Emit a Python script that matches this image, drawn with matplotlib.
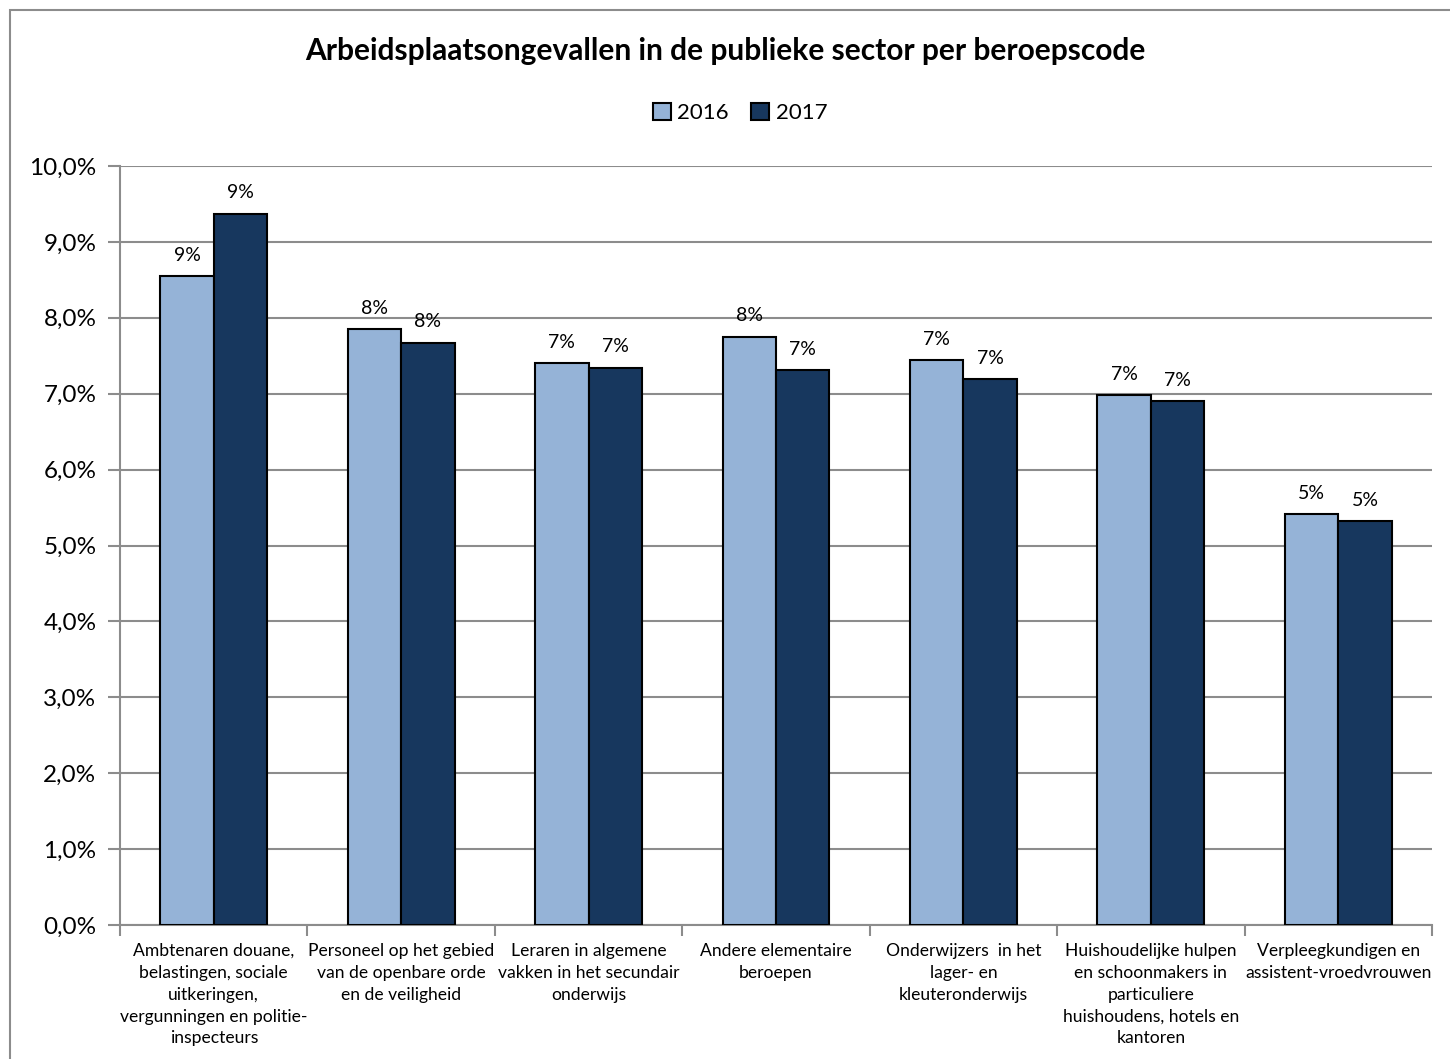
import numpy as np
import matplotlib.pyplot as plt
from matplotlib.patches import Rectangle

plt.rcParams['font.family'] = ['Lato', 'DejaVu Sans']

categories = [
    "Ambtenaren douane,\nbelastingen, sociale\nuitkeringen,\nvergunningen en politie-\ninspecteurs",
    "Personeel op het gebied\nvan de openbare orde\nen de veiligheid",
    "Leraren in algemene\nvakken in het secundair\nonderwijs",
    "Andere elementaire\nberoepen",
    "Onderwijzers  in het\nlager- en\nkleuteronderwijs",
    "Huishoudelijke hulpen\nen schoonmakers in\nparticuliere\nhuishoudens, hotels en\nkantoren",
    "Verpleegkundigen en\nassistent-vroedvrouwen",
]
vals_2016 = [8.55, 7.85, 7.40, 7.75, 7.44, 6.98, 5.41]
vals_2017 = [9.37, 7.67, 7.34, 7.31, 7.19, 6.90, 5.32]
series_names = ["2016", "2017"]
colors = ["#95B3D7", "#17375E"]

fig = plt.figure(figsize=(14.5, 10.59), dpi=100)
ax = fig.add_axes([120 / 1450, 134 / 1059, 1312 / 1450, 759 / 1059])

x = np.arange(len(categories))
w = 0.285
bars = []
for k, (vals, name, c) in enumerate(zip([vals_2016, vals_2017], series_names, colors)):
    b = ax.bar(x + (k - 0.5) * w, vals, w, color=c, edgecolor='black',
               linewidth=1.5, label=name, zorder=3)
    bars.append(b)
    for xi, v in zip(x + (k - 0.5) * w, vals):
        ax.annotate(f"{v:.0f}%", (xi, v), xytext=(0, 9), textcoords='offset points',
                    ha='center', va='bottom', fontsize=14)

ax.set_xlim(-0.5, len(categories) - 0.5)
ax.set_ylim(0, 10)
ax.set_yticks(np.arange(0, 10.01, 1))
ax.set_yticklabels([f"{t:.1f}%".replace('.', ',') for t in np.arange(0, 10.01, 1)],
                   fontsize=17.5)
ax.yaxis.grid(True, color='#8c8c8c', linewidth=1.5, zorder=0)
ax.set_axisbelow(True)

# category boundaries as major ticks, labels as minor ticks
ax.set_xticks(np.arange(-0.5, len(categories), 1))
ax.set_xticklabels([])
ax.set_xticks(x, minor=True)
ax.set_xticklabels(categories, minor=True, fontsize=12.6, linespacing=1.45, va='top')
ax.tick_params(axis='x', which='minor', length=0, pad=13)
ax.tick_params(axis='x', which='major', length=8, width=1.5, color='#8c8c8c')
ax.tick_params(axis='y', length=9, width=1.5, color='#8c8c8c', pad=8)

for s in ['top', 'right']:
    ax.spines[s].set_visible(False)
for s in ['left', 'bottom']:
    ax.spines[s].set_color('#8c8c8c')
    ax.spines[s].set_linewidth(1.5)

fig.text(0.5, 1 - 51 / 1059, "Arbeidsplaatsongevallen in de publieke sector per beroepscode",
         ha='center', va='center', fontsize=21.5, fontweight='bold')
fig.legend(handles=bars, labels=series_names, loc='center',
           bbox_to_anchor=(0.5 + 15 / 1450, 1 - 113 / 1059),
           ncol=2, frameon=False, fontsize=16, handlelength=0.8, handleheight=0.8,
           handletextpad=0.3, columnspacing=1.0)

fig.patches.append(Rectangle((10 / 1450, -0.1), 1.2, 1 - 10 / 1059 + 0.1,
                             transform=fig.transFigure, fill=False,
                             edgecolor='#8c8c8c', linewidth=1.5))

fig.savefig("out.png", dpi=100)
